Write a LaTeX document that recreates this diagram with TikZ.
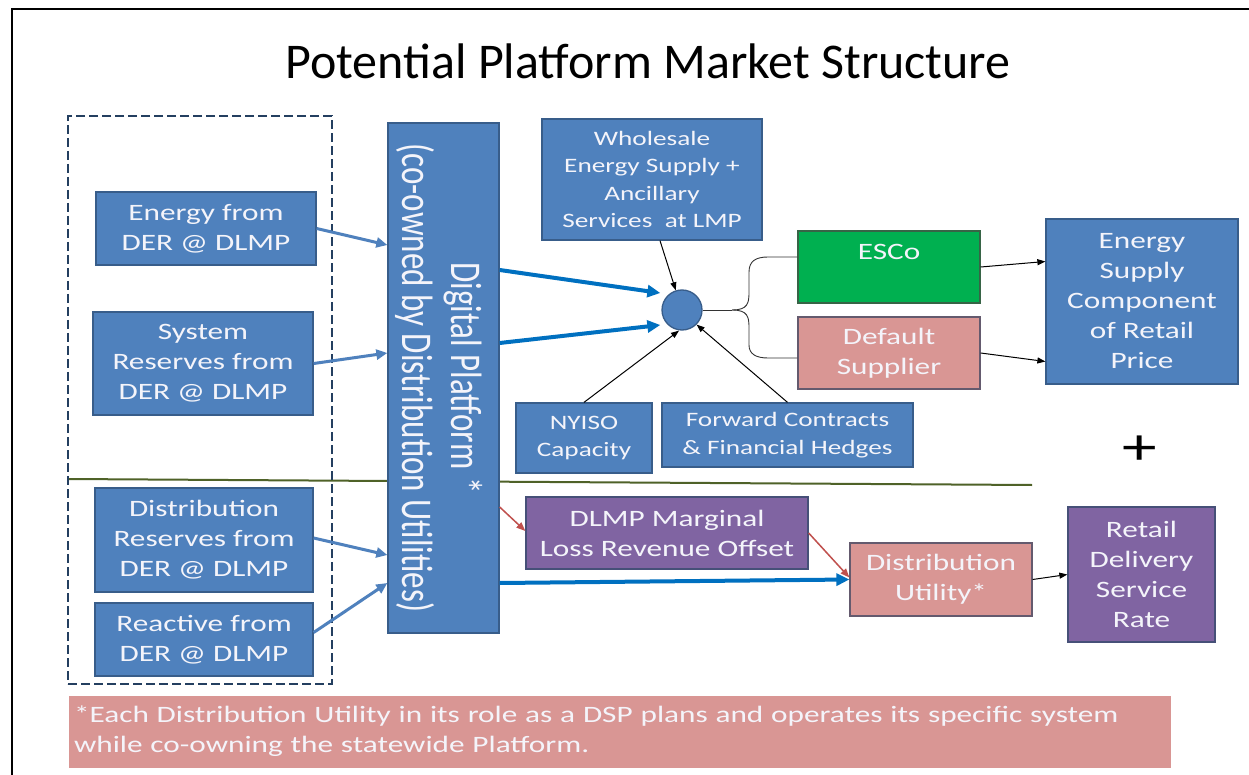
\documentclass[tikz,border=0pt]{standalone}
\usepackage{fontspec}
\usepackage{graphicx}
\setmainfont{Carlito}
\newfontfamily\boxfont{Carlito}[FakeStretch=1.33]
\newfontfamily\platfont{Carlito}
\usetikzlibrary{arrows.meta,calc}
\definecolor{bfill}{RGB}{79,129,189}
\definecolor{bdraw}{RGB}{56,93,138}
\definecolor{gfill}{RGB}{0,176,80}
\definecolor{gdraw}{RGB}{55,100,70}
\definecolor{pfill}{RGB}{217,150,148}
\definecolor{pdraw}{RGB}{100,90,110}
\definecolor{vfill}{RGB}{128,100,162}
\definecolor{vdraw}{RGB}{70,80,120}
\definecolor{arrowblue}{RGB}{0,112,192}
\definecolor{lblue}{RGB}{79,129,189}
\definecolor{redar}{RGB}{192,80,77}
\definecolor{sepcol}{RGB}{79,98,40}
\definecolor{dashc}{RGB}{36,63,96}
\definecolor{txt}{RGB}{244,244,250}
\begin{document}
\begin{tikzpicture}[x=1pt,y=-1pt,
  box/.style={rectangle, draw=bdraw, fill=bfill, line width=1.3pt, text=txt, align=center, inner sep=0pt, font=\boxfont\fontsize{23.5}{30}\selectfont},
  greenbox/.style={box, draw=gdraw, fill=gfill},
  pinkbox/.style={box, draw=pdraw, fill=pfill},
  purplebox/.style={box, draw=vdraw, fill=vfill},
  smalltext/.style={font=\boxfont\fontsize{20.5}{27.5}\selectfont},
  inarrow/.style={draw=lblue, line width=3pt, -{Triangle[length=11pt,width=10pt]}},
  bigarrow/.style={draw=arrowblue, line width=4pt, -{Triangle[length=13pt,width=12pt]}},
  blackarrow/.style={draw=black, line width=1pt, -{Triangle[length=8pt,width=6pt]}},
  redarrow/.style={draw=redar, line width=1.5pt, -{Triangle[length=9pt,width=7pt]}},
  bracel/.style={draw=black!80, line width=0.9pt},
  grouping/.style={draw=dashc, dash pattern=on 9pt off 4pt, line width=2.8pt, rectangle, inner sep=0pt}
]
\useasboundingbox (0,0) rectangle (1249,775);
\fill[white] (0,0) rectangle (1249,775);
% frame
\coordinate (fBL) at (12,775);
\coordinate (fTL) at (12,9);
\coordinate (fTR) at (1249,9);
\draw[line width=1.8pt] (fBL) -- (fTL) -- (fTR);
% title
\node[font=\fontsize{50}{60}\selectfont] (title) at (648,61) {Potential Platform Market Structure};
% separator
\coordinate (sepL) at (68,479);
\coordinate (sepR) at (1032,485);
\draw[draw=sepcol, line width=2pt] (sepL) -- (sepR);
% dashed group
\node[grouping, minimum width=264pt, minimum height=568pt] (group) at (200,400) {};
% left boxes
\node[box, minimum width=220pt, minimum height=73pt] (energy) at (206,228.5) {Energy from\\DER @ DLMP};
\node[box, minimum width=220pt, minimum height=103pt] (system) at (203,363.5) {System\\Reserves from\\DER @ DLMP};
\node[box, minimum width=218pt, minimum height=104pt] (distres) at (204,540) {Distribution\\Reserves from\\DER @ DLMP};
\node[box, minimum width=218pt, minimum height=73pt] (reactive) at (204,639.5) {Reactive from\\DER @ DLMP};
% platform
\node[box, minimum width=111pt, minimum height=510pt] (platform) at (443.5,378) {};
\node[rotate=-90, text=txt, inner sep=0pt] (platlabel) at (439,378) {\scalebox{1}[1.33]{\begin{minipage}{520pt}\centering\platfont\fontsize{33}{37}\selectfont Digital Platform *\\(co-owned by Distribution Utilities)\end{minipage}}};
% upper market
\node[box, smalltext, minimum width=220pt, minimum height=121pt] (wholesale) at (652,179.5) {Wholesale\\Energy Supply +\\Ancillary\\Services~ at LMP};
\node[circle, draw=bdraw, fill=bfill, line width=1.3pt, minimum size=40pt, inner sep=0pt] (hub) at (682,310) {};
\node[greenbox, minimum width=182pt, minimum height=72pt] (esco) at (889,267) {};
\node[text=txt, inner sep=0pt, font=\boxfont\fontsize{23.5}{30}\selectfont] (escolabel) at (889,252) {ESCo};
\node[pinkbox, minimum width=182pt, minimum height=72pt] (default) at (889,353) {Default\\Supplier};
\node[box, minimum width=192pt, minimum height=165pt] (supply) at (1142,301.5) {Energy\\Supply\\Component\\of Retail\\Price};
\node[box, smalltext, minimum width=136pt, minimum height=70pt] (nyiso) at (584,438) {NYISO\\Capacity};
\node[box, smalltext, minimum width=251pt, minimum height=64pt] (forward) at (787.5,435) {Forward Contracts\\\& Financial Hedges};
\node[font=\boxfont\fontsize{52}{52}\selectfont, text=black, inner sep=0pt] (plus) at (1140,450) {+};
% lower
\node[purplebox, minimum width=282pt, minimum height=72pt] (dlmp) at (667,533) {DLMP Marginal\\Loss Revenue Offset};
\node[pinkbox, minimum width=182pt, minimum height=73pt] (distu) at (941,579.5) {Distribution\\Utility*};
\node[purplebox, minimum width=147pt, minimum height=135pt] (retail) at (1141.5,574.5) {Retail\\Delivery\\Service\\Rate};
% note
\node[pinkbox, draw=none, minimum width=1102pt, minimum height=72pt, text width=1092pt, align=left, font=\boxfont\fontsize{23.5}{30}\selectfont] (note) at (620,731.5) {*Each Distribution Utility in its role as a DSP plans and operates its specific system\\while co-owning the statewide Platform.};
% connectors into the platform
\draw[inarrow] (energy.east) -- ($(platform.west)+(0,-133)$);
\draw[inarrow] (system.east) -- ($(platform.west)+(0,-25)$);
\draw[inarrow] ($(distres.east)+(0,-2)$) -- ($(platform.west)+(0,177)$);
\draw[inarrow] ($(reactive.east)+(0,-7)$) -- ($(platform.west)+(0,205)$);
% platform to hub
\draw[bigarrow] ($(platform.east)+(0,-108)$) -- ($(hub.west)+(-1,-17)$);
\draw[bigarrow] ($(platform.east)+(0,-35)$) -- ($(hub.west)+(-1,15)$);
\draw[blackarrow] ($(wholesale.south)+(8,0)$) -- (hub);
\draw[blackarrow] (nyiso.north) -- ($(hub.south)+(-3,0)$);
\draw[blackarrow] (forward.north) -- (hub.south east);
% brace
\coordinate (bt) at (732,310);
\draw[bracel] (hub.east) -- (bt);
\draw[bracel] (bt) .. controls (748,310) and (749,303) .. (749,292) -- (749,272) .. controls (749,261) and (756,257) .. (768,257) -- ($(esco.west)+(0,-10)$);
\draw[bracel] (bt) .. controls (748,310) and (749,317) .. (749,328) -- (749,345) .. controls (749,354) and (756,358) .. (768,358) -- ($(default.west)+(0,5)$);
% to retail price
\draw[blackarrow] (esco.east) -- ($(supply.west)+(0,-40)$);
\draw[blackarrow] (default.east) -- ($(supply.west)+(0,60)$);
% lower flows
\draw[bigarrow] ($(platform.east)+(0,205)$) -- (distu.west);
\draw[redarrow] ($(platform.east)+(0,129)$) -- ($(dlmp.west)+(0,-2)$);
\draw[redarrow] (dlmp.east) -- ($(distu.west)+(0,-2)$);
\draw[blackarrow] (distu.east) -- (retail.west);
\end{tikzpicture}
\end{document}
